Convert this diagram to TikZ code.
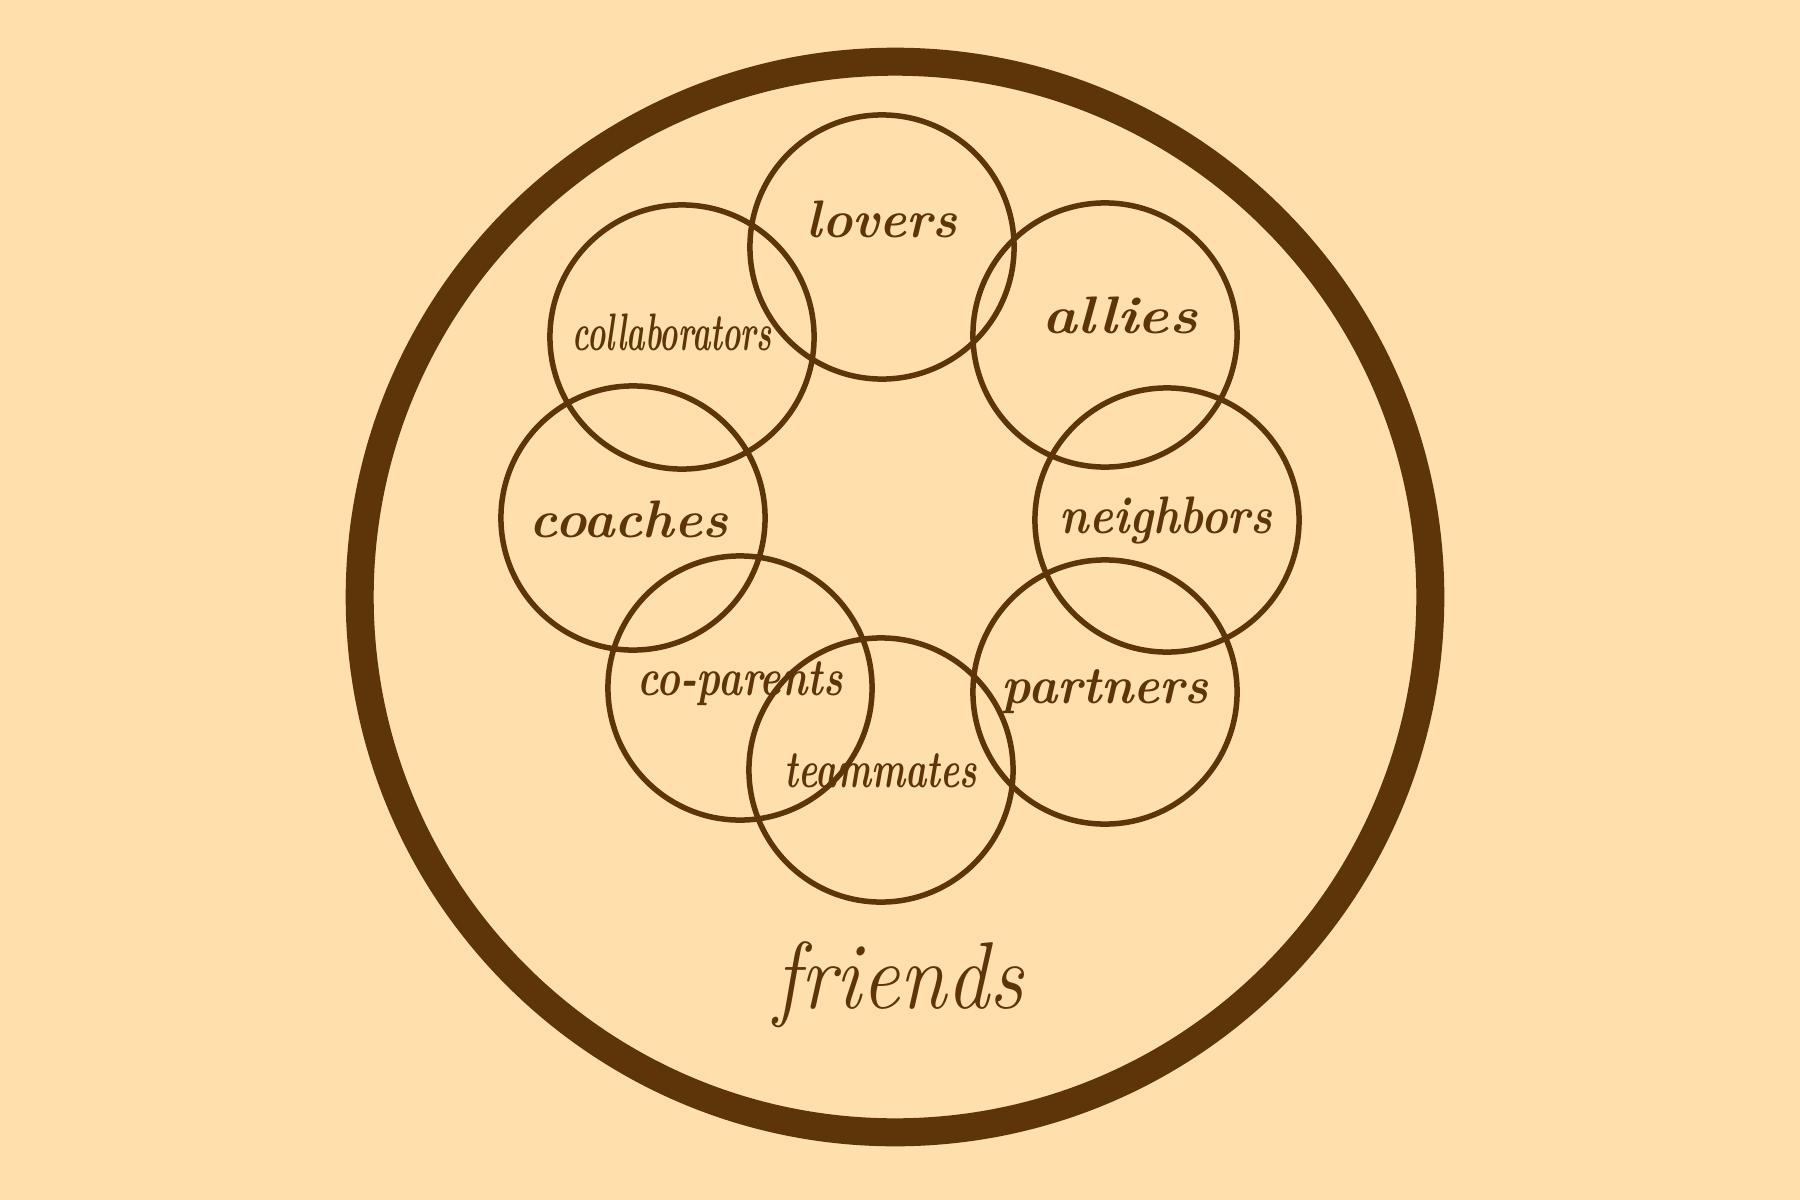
\documentclass[tikz,border=0pt]{standalone}
\usepackage{graphicx}
\definecolor{bg}{HTML}{FFDFAB}
\definecolor{ink}{HTML}{5E3409}
\newcommand{\wlbl}[2]{\resizebox{#1cm}{\height}{#2}}
\begin{document}
\begin{tikzpicture}[x=0.01cm,y=-0.01cm,
  ring/.style={circle,draw=ink,line width=0.055cm,minimum size=2.64cm,inner sep=0pt},
  bigring/.style={circle,draw=ink,line width=0.28cm,minimum size=10.7cm,inner sep=0pt},
  lbl/.style={anchor=base,text=ink,inner sep=0pt,font=\fontsize{15}{18}\selectfont\bfseries\itshape},
  biglbl/.style={anchor=base,text=ink,inner sep=0pt,font=\fontsize{27}{32}\selectfont\itshape}]
\fill[bg] (0,0) rectangle (1800,1200);
\useasboundingbox (0,0) rectangle (1800,1200);
\node[bigring] (outer) at (895,597) {};
\node[ring] (c-lovers) at (882,247) {};
\node[ring] (c-allies) at (1105,335) {};
\node[ring] (c-neighbors) at (1167,520) {};
\node[ring] (c-partners) at (1105,692) {};
\node[ring] (c-teammates) at (881,770) {};
\node[ring] (c-coparents) at (740,688) {};
\node[ring] (c-coaches) at (633,518) {};
\node[ring] (c-collab) at (682,337) {};
\node[lbl] (t-lovers) at (882,237) {\wlbl{1.5}{lovers}};
\node[lbl] (t-allies) at (1120,333) {\wlbl{1.55}{allies}};
\node[lbl] (t-neighbors) at (1166,533) {\wlbl{2.12}{neighbors}};
\node[lbl] (t-partners) at (1105,703) {\wlbl{2.06}{partners}};
\node[lbl] (t-teammates) at (881,787) {\wlbl{1.92}{teammates}};
\node[lbl] (t-coparents) at (740,695) {\wlbl{2.05}{co-parents}};
\node[lbl] (t-coaches) at (629,537) {\wlbl{1.98}{coaches}};
\node[lbl] (t-collab) at (672,350) {\wlbl{1.99}{collaborators}};
\node[biglbl] (t-friends) at (899,1008) {\wlbl{2.48}{friends}};
\end{tikzpicture}
\end{document}
